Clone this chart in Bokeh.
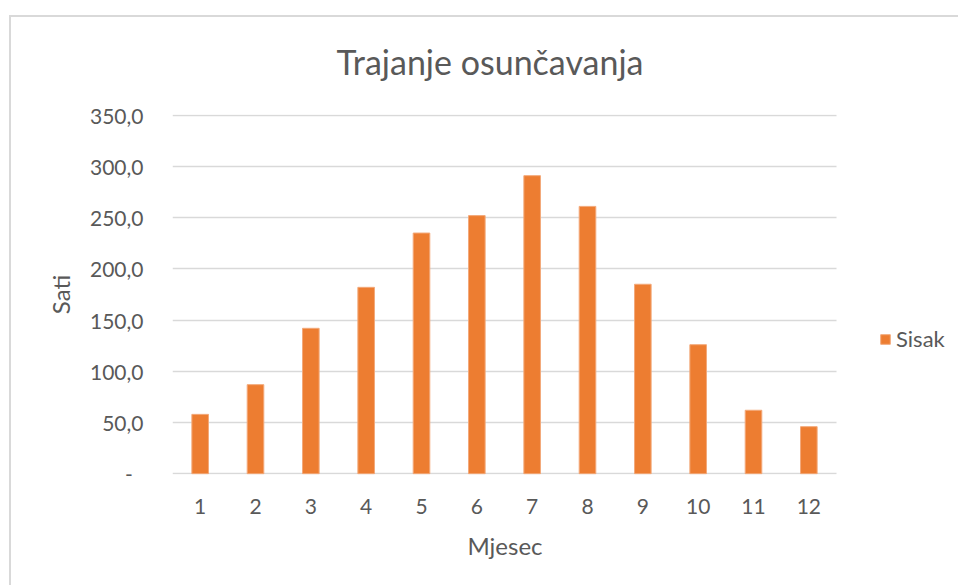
from bokeh.plotting import figure
from bokeh.models import Range1d, FixedTicker, Legend, LegendItem, ColumnDataSource, Title
from bokeh.embed import file_html
from bokeh.resources import INLINE

# ---- data ----
months = [1, 2, 3, 4, 5, 6, 7, 8, 9, 10, 11, 12]
sisak_hours = [58, 87, 142, 182, 235, 252, 291, 261, 185, 126, 62, 46]
y_ticks = [0, 50, 100, 150, 200, 250, 300, 350]
y_tick_labels = ["-", "50,0", "100,0", "150,0", "200,0", "250,0", "300,0", "350,0"]
series_name = "Sisak"
title_text = "Trajanje osunčavanja"
x_title = "Mjesec"
y_title = "Sati"

FONT = "Lato"
TXT = "#595959"
GRID = "#D9D9D9"
ORANGE = "#ED7D31"

src = ColumnDataSource(dict(m=months, v=sisak_hours))

# plot area spans months 0.5..12.5; the frame continues to the right to hold the legend
x_lo, x_hi = 0.5, 12.5
frame_w, plot_w = 786, 664
x_end = x_lo + (x_hi - x_lo) * frame_w / plot_w

p = figure(
    x_range=Range1d(x_lo, x_end),
    y_range=Range1d(-0.7, 350.7),
    width=949, height=585,
    output_backend="svg",
    toolbar_location=None,
    min_border_left=163, min_border_right=0,
    min_border_top=114, min_border_bottom=111,
)
# chart-area border (top and left edges) painted behind the transparent canvas border
p.styles = {
    "margin-left": "9px",
    "background-image": "linear-gradient(#D9D9D9, #D9D9D9), linear-gradient(#D9D9D9, #D9D9D9)",
    "background-size": "100% 2px, 2px 100%",
    "background-position": "0 15px, 0 15px",
    "background-repeat": "no-repeat",
}
p.outline_line_color = None
p.background_fill_color = "white"
p.border_fill_alpha = 0

r = p.vbar(x="m", top="v", width=0.3, source=src,
           fill_color=ORANGE, line_color="#F3A97A", line_width=1)

# title
p.title.text = title_text
p.title.align = "left"
p.title.offset = 164
p.title.text_font = FONT
p.title.text_font_size = "34px"
p.title.text_font_style = "normal"
p.title.text_color = TXT
p.title.standoff = 65

# y axis
p.yaxis.ticker = FixedTicker(ticks=y_ticks)
p.yaxis.major_label_overrides = {t: (lab if lab != "-" else "-\u00a0\u00a0")
                                 for t, lab in zip(y_ticks, y_tick_labels)}
p.yaxis.axis_line_color = None
p.yaxis.major_tick_line_color = None
p.yaxis.minor_tick_line_color = None
p.yaxis.major_tick_in = 0
p.yaxis.major_tick_out = 0
p.yaxis.major_label_standoff = 29
p.yaxis.major_label_text_font = FONT
p.yaxis.major_label_text_font_size = "21px"
p.yaxis.major_label_text_color = TXT
p.yaxis.axis_label = y_title
p.yaxis.axis_label_text_font = FONT
p.yaxis.axis_label_text_font_size = "24px"
p.yaxis.axis_label_text_font_style = "normal"
p.yaxis.axis_label_text_color = TXT
p.yaxis.axis_label_standoff = 12

# x axis
p.xaxis.ticker = FixedTicker(ticks=months)
p.xaxis.bounds = (x_lo, x_hi)
p.xaxis.axis_line_color = None
p.xaxis.major_tick_line_color = None
p.xaxis.minor_tick_line_color = None
p.xaxis.major_tick_in = 0
p.xaxis.major_tick_out = 0
p.xaxis.major_label_standoff = 24
p.xaxis.major_label_text_font = FONT
p.xaxis.major_label_text_font_size = "21px"
p.xaxis.major_label_text_color = TXT

# x-axis title, centred under the plot area (not under the wider frame)
p.add_layout(Title(text=x_title, align="left", offset=295, standoff=24,
                   text_font=FONT, text_font_size="24px", text_font_style="normal",
                   text_color=TXT), "below")

# grid
p.xgrid.grid_line_color = None
p.ygrid.ticker = FixedTicker(ticks=y_ticks)
p.ygrid.cross_bounds = (x_lo, x_hi)
p.ygrid.grid_line_color = GRID
p.ygrid.grid_line_width = 1.5

# legend
legend = Legend(items=[LegendItem(label=series_name, renderers=[r])],
                location=(707, 122), orientation="vertical")
legend.glyph_width = 12
legend.glyph_height = 12
legend.label_height = 12
legend.label_standoff = 5
legend.padding = 0
legend.margin = 0
legend.spacing = 0
legend.border_line_color = None
legend.background_fill_alpha = 0
legend.label_text_font = FONT
legend.label_text_font_size = "22px"
legend.label_text_color = TXT
legend.label_text_baseline = "middle"
p.add_layout(legend)

open("out.html", "w").write(file_html(p, INLINE))
